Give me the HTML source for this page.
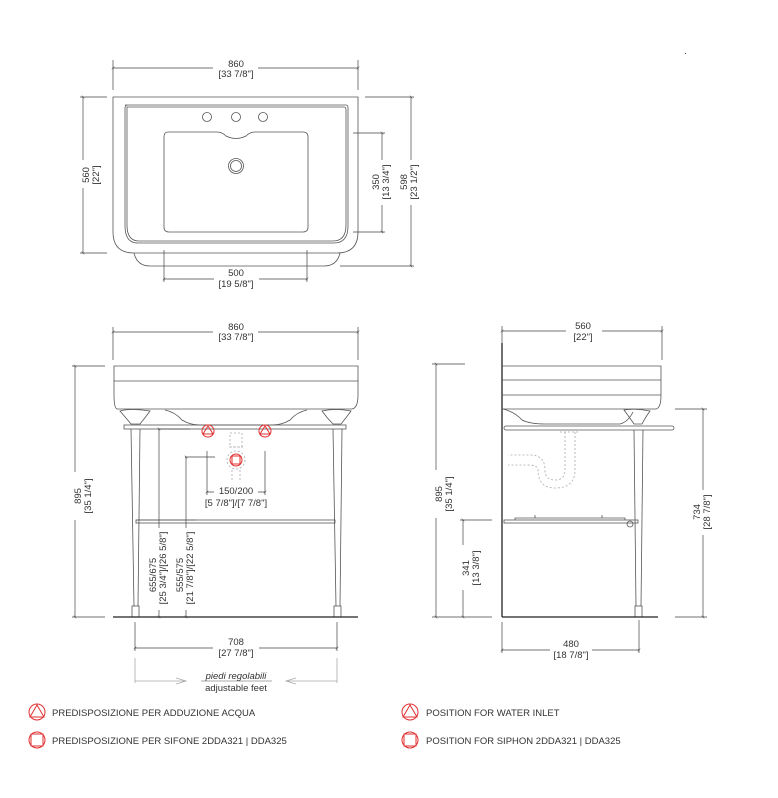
<!DOCTYPE html>
<html><head><meta charset="utf-8"><style>
html,body{margin:0;padding:0;background:#fff;}
svg{display:block;}
text{font-family:"Liberation Sans",sans-serif;fill:#333;font-size:9.5px;}
.l{fill:none;stroke:#555;stroke-width:0.8;}
.d{fill:none;stroke:#444;stroke-width:0.7;}
.g{fill:none;stroke:#aaa;stroke-width:0.8;}
.r{fill:none;stroke:#e03030;stroke-width:1;}
.dash{fill:none;stroke:#aaa;stroke-width:0.8;stroke-dasharray:2 2;}
</style></head><body>
<svg width="778" height="798" viewBox="0 0 778 798" xmlns="http://www.w3.org/2000/svg">
<defs>
<marker id="t" viewBox="0 0 10 10" refX="5" refY="5" markerWidth="6" markerHeight="6" orient="auto"><path d="M2 8 L8 2" stroke="#444" stroke-width="1.2"/></marker>
</defs>

<!-- ================= TOP VIEW ================= -->
<path class="l" d="M113 97 H358 V232 Q358 253 337 253 H134 Q113 253 113 232 Z"/>
<path class="l" d="M125 105 H346 Q348 105 348 108 V226 Q348 243 334 243 H138 Q125 243 125 226 V108 Q125 105 128 105 Z"/>
<path class="l" d="M127 107 H344 Q346 107 346 110 V225 Q346 241 333 241 H139 Q127 241 127 225 V110 Z" stroke="#bbb"/>
<path class="l" d="M168 132 H217 Q222 132 226 136 Q236 141 246 136 Q250 132 255 132 H303 Q308 132 308 137 V227 Q308 232 303 232 H169 Q164 232 164 227 V137 Q164 132 168 132 Z"/>
<circle class="l" cx="207" cy="117" r="4.5"/><circle class="l" cx="236" cy="117" r="4.5"/><circle class="l" cx="263" cy="117" r="4.5"/>
<circle class="l" cx="236" cy="166" r="7.5"/><circle class="l" cx="236" cy="166" r="5.5"/>
<path class="l" d="M134 253 Q137 266 150 266 H324 Q337 266 340 253"/>
<!-- dims -->
<path class="d" d="M113 90 V60 M358 90 V60"/>
<line class="d" x1="113" y1="68" x2="358" y2="68" marker-start="url(#t)" marker-end="url(#t)"/>
<rect x="213" y="58" width="45" height="22" fill="#fff"/>
<text x="236" y="67" text-anchor="middle">860</text><text x="236" y="77" text-anchor="middle">[33 7/8"]</text>
<path class="d" d="M80 97 H107 M80 253 H107"/>
<line class="d" x1="83" y1="97" x2="83" y2="253" marker-start="url(#t)" marker-end="url(#t)"/>
<rect x="78" y="160" width="20" height="28" fill="#fff"/>
<text transform="translate(89,175) rotate(-90)" text-anchor="middle">560</text>
<text transform="translate(99,175) rotate(-90)" text-anchor="middle">[22"]</text>
<path class="d" d="M353 133 H385 M353 232 H385"/>
<line class="d" x1="382" y1="133" x2="382" y2="232" marker-start="url(#t)" marker-end="url(#t)"/>
<rect x="368" y="160" width="22" height="45" fill="#fff"/>
<text transform="translate(379,182) rotate(-90)" text-anchor="middle">350</text>
<text transform="translate(389,182) rotate(-90)" text-anchor="middle">[13 3/4"]</text>
<path class="d" d="M365 97 H414 M340 266 H414"/>
<line class="d" x1="411" y1="97" x2="411" y2="266" marker-start="url(#t)" marker-end="url(#t)"/>
<rect x="396" y="160" width="22" height="45" fill="#fff"/>
<text transform="translate(407,182) rotate(-90)" text-anchor="middle">598</text>
<text transform="translate(417,182) rotate(-90)" text-anchor="middle">[23 1/2"]</text>
<path class="d" d="M164 250 V282 M307 250 V282"/>
<line class="d" x1="164" y1="279" x2="307" y2="279" marker-start="url(#t)" marker-end="url(#t)"/>
<rect x="214" y="267" width="45" height="22" fill="#fff"/>
<text x="236" y="276" text-anchor="middle">500</text><text x="236" y="287" text-anchor="middle">[19 5/8"]</text>
<text x="684" y="56" font-size="6" fill="#999">·</text>

<!-- ================= FRONT VIEW ================= -->
<path class="d" d="M113 360 V327 M358 360 V327"/>
<line class="d" x1="113" y1="332" x2="358" y2="332" marker-start="url(#t)" marker-end="url(#t)"/>
<rect x="213" y="320" width="45" height="22" fill="#fff"/>
<text x="236" y="330" text-anchor="middle">860</text><text x="236" y="340" text-anchor="middle">[33 7/8"]</text>
<path class="l" d="M114 366 H358 V395 Q358 408 352 409 L117 409 Q114 408 114 395 Z"/>
<line class="l" x1="114" y1="381" x2="358" y2="381"/>
<path class="l" d="M165 410 Q175 412 182 420 Q190 425 200 425 H272 Q282 425 290 420 Q297 412 307 410"/>
<!-- leg caps -->
<path class="l" d="M120 411 Q130 408 150 411 Q145 418 140 424 H131 Q126 418 120 411 Z" fill="#eee"/>
<path class="l" d="M322 411 Q335 408 351 411 Q346 418 341 424 H333 Q327 418 322 411 Z" fill="#eee"/>
<rect class="l" x="124" y="425" width="222" height="4" fill="#f4f4f4"/>
<!-- legs -->
<path class="l" d="M131 429 L134 606 M140 429 L138 606"/>
<path class="l" d="M333 429 L336 606 M342 429 L340 606"/>
<rect class="l" x="132" y="606" width="7" height="11"/><rect class="l" x="334" y="606" width="7" height="11"/>
<rect class="l" x="136" y="520" width="199" height="3"/>
<line x1="113" y1="617" x2="358" y2="617" stroke="#222" stroke-width="1.2"/>
<!-- siphon dashed -->
<rect class="dash" x="230" y="433" width="12" height="14"/>
<path class="dash" d="M229 447 H243 M232 470 V480 M240 470 V480"/>
<!-- red symbols -->
<circle class="r" cx="208" cy="431" r="6" stroke-width="0.7"/><path class="r" d="M208 426 L203 434 H213 Z" stroke-width="0.7"/>
<circle class="r" cx="265" cy="431" r="6" stroke-width="0.7"/><path class="r" d="M265 426 L260 434 H270 Z" stroke-width="0.7"/>
<circle class="dash" cx="236" cy="460" r="9"/>
<circle class="r" cx="236" cy="460" r="6" stroke-width="1.3"/><rect class="r" x="232" y="456" width="8" height="8" stroke-width="1"/>
<!-- 150/200 -->
<path class="d" d="M207 451 V495 M265 451 V495"/>
<line class="d" x1="207" y1="492" x2="265" y2="492" marker-start="url(#t)" marker-end="url(#t)"/>
<rect x="214" y="485" width="44" height="10" fill="#fff"/>
<text x="236" y="494" text-anchor="middle">150/200</text>
<text x="236" y="506" text-anchor="middle">[5 7/8"]/[7 7/8"]</text>
<!-- heights -->
<path class="d" d="M158 429 H190 M185 457 H215"/>
<line class="d" x1="159" y1="429" x2="159" y2="617" marker-start="url(#t)" marker-end="url(#t)"/>
<line class="d" x1="186" y1="457" x2="186" y2="617" marker-start="url(#t)" marker-end="url(#t)"/>
<rect x="145" y="528" width="50" height="82" fill="#fff"/>
<line class="l" x1="136" y1="520" x2="196" y2="520"/>
<text transform="translate(156,575) rotate(-90)" text-anchor="middle">655/675</text>
<text transform="translate(166,568) rotate(-90)" text-anchor="middle">[25 3/4"]/[26 5/8"]</text>
<text transform="translate(183,575) rotate(-90)" text-anchor="middle">555/575</text>
<text transform="translate(193,568) rotate(-90)" text-anchor="middle">[21 7/8"]/[22 5/8"]</text>
<!-- 895 -->
<path class="d" d="M72 366 H105 M72 617 H105"/>
<line class="d" x1="75" y1="366" x2="75" y2="617" marker-start="url(#t)" marker-end="url(#t)"/>
<rect x="70" y="472" width="22" height="48" fill="#fff"/>
<text transform="translate(81,496) rotate(-90)" text-anchor="middle">895</text>
<text transform="translate(91,496) rotate(-90)" text-anchor="middle">[35 1/4"]</text>
<!-- 708 -->
<path class="d" d="M135 622 V651 M337 622 V651"/>
<line class="d" x1="135" y1="648" x2="337" y2="648" marker-start="url(#t)" marker-end="url(#t)"/>
<rect x="213" y="636" width="46" height="22" fill="#fff"/>
<text x="236" y="645" text-anchor="middle">708</text><text x="236" y="656" text-anchor="middle">[27 7/8"]</text>
<path class="g" d="M135 658 V683 M337 658 V683 M135 681 H185 M287 681 H337 M176 678 L186 681 L176 684 M296 678 L286 681 L296 684"/>
<text x="236" y="679" text-anchor="middle" font-style="italic">piedi regolabili</text>
<line x1="201" y1="681" x2="272" y2="681" stroke="#555" stroke-width="0.6"/>
<text x="236" y="691" text-anchor="middle">adjustable feet</text>

<!-- ================= SIDE VIEW ================= -->
<path class="d" d="M502 343 V326 M662 360 V326"/>
<line class="d" x1="502" y1="331" x2="662" y2="331" marker-start="url(#t)" marker-end="url(#t)"/>
<rect x="566" y="320" width="36" height="22" fill="#fff"/>
<text x="583" y="329" text-anchor="middle">560</text><text x="583" y="340" text-anchor="middle">[22"]</text>
<line x1="502" y1="343" x2="502" y2="617" stroke="#222" stroke-width="1.3"/>
<path class="l" d="M502 366 H661 V395 Q661 408 656 409 H502"/>
<line class="l" x1="502" y1="380" x2="661" y2="380"/>
<line class="l" x1="502" y1="395" x2="661" y2="395"/>
<path class="l" d="M503 409 Q515 412 522 420 Q530 424 545 424 H620 Q628 422 633 412"/>
<path class="l" d="M624 410 Q634 408 650 411 Q645 418 642 424 H634 Q630 418 624 410 Z" fill="#eee"/>
<rect class="l" x="504" y="426" width="170" height="4" rx="2" fill="#f4f4f4"/>
<path class="l" d="M634 430 L636 606 M643 430 L641 606"/>
<rect class="l" x="635" y="606" width="7" height="11"/>
<rect class="l" x="504" y="520" width="134" height="3" fill="#f4f4f4"/>
<path class="l" d="M515 520 V518 H625 V520 M535 518 V515 M602 518 V515"/>
<circle class="l" cx="630" cy="524" r="3"/>
<line x1="502" y1="617" x2="658" y2="617" stroke="#222" stroke-width="1.2"/>
<!-- siphon dashed -->
<path class="dash" d="M565 432 V470 Q565 480 555 480 Q545 480 545 470 Q545 455 530 455 H508 M575 432 V470 Q575 488 555 488 Q538 488 538 470 Q538 465 528 465 H508"/>
<path class="dash" d="M560 432 H580"/>
<!-- dims -->
<path class="d" d="M432 364 H465 M432 617 H492"/>
<line class="d" x1="436" y1="364" x2="436" y2="617" marker-start="url(#t)" marker-end="url(#t)"/>
<rect x="431" y="470" width="22" height="48" fill="#fff"/>
<text transform="translate(442,494) rotate(-90)" text-anchor="middle">895</text>
<text transform="translate(452,494) rotate(-90)" text-anchor="middle">[35 1/4"]</text>
<path class="d" d="M460 520 H492"/>
<line class="d" x1="463" y1="520" x2="463" y2="617" marker-start="url(#t)" marker-end="url(#t)"/>
<rect x="458" y="545" width="22" height="45" fill="#fff"/>
<text transform="translate(469,568) rotate(-90)" text-anchor="middle">341</text>
<text transform="translate(479,568) rotate(-90)" text-anchor="middle">[13 3/8"]</text>
<path class="d" d="M675 409 H707 M675 617 H707"/>
<line class="d" x1="703" y1="409" x2="703" y2="617" marker-start="url(#t)" marker-end="url(#t)"/>
<rect x="690" y="490" width="24" height="45" fill="#fff"/>
<text transform="translate(700,512) rotate(-90)" text-anchor="middle">734</text>
<text transform="translate(710,512) rotate(-90)" text-anchor="middle">[28 7/8"]</text>
<path class="d" d="M502 622 V653 M639 620 V653"/>
<line class="d" x1="502" y1="650" x2="639" y2="650" marker-start="url(#t)" marker-end="url(#t)"/>
<rect x="550" y="638" width="42" height="22" fill="#fff"/>
<text x="571" y="647" text-anchor="middle">480</text><text x="571" y="658" text-anchor="middle">[18 7/8"]</text>

<!-- ================= LEGEND ================= -->
<g font-size="9">
<circle class="r" cx="37" cy="712" r="8"/><path class="r" d="M37 705 L30 717 H44 Z"/>
<text x="52" y="716" font-size="9">PREDISPOSIZIONE PER ADDUZIONE ACQUA</text>
<circle class="r" cx="37" cy="740" r="8"/><rect class="r" x="31" y="734" width="12" height="12"/>
<text x="52" y="744" font-size="9">PREDISPOSIZIONE PER SIFONE 2DDA321 | DDA325</text>
<circle class="r" cx="410" cy="712" r="8"/><path class="r" d="M410 705 L403 717 H417 Z"/>
<text x="426" y="716" font-size="9">POSITION FOR WATER INLET</text>
<circle class="r" cx="410" cy="740" r="8"/><rect class="r" x="404" y="734" width="12" height="12"/>
<text x="426" y="744" font-size="9">POSITION FOR SIPHON  2DDA321 | DDA325</text>
</g>
</svg>
</body></html>
